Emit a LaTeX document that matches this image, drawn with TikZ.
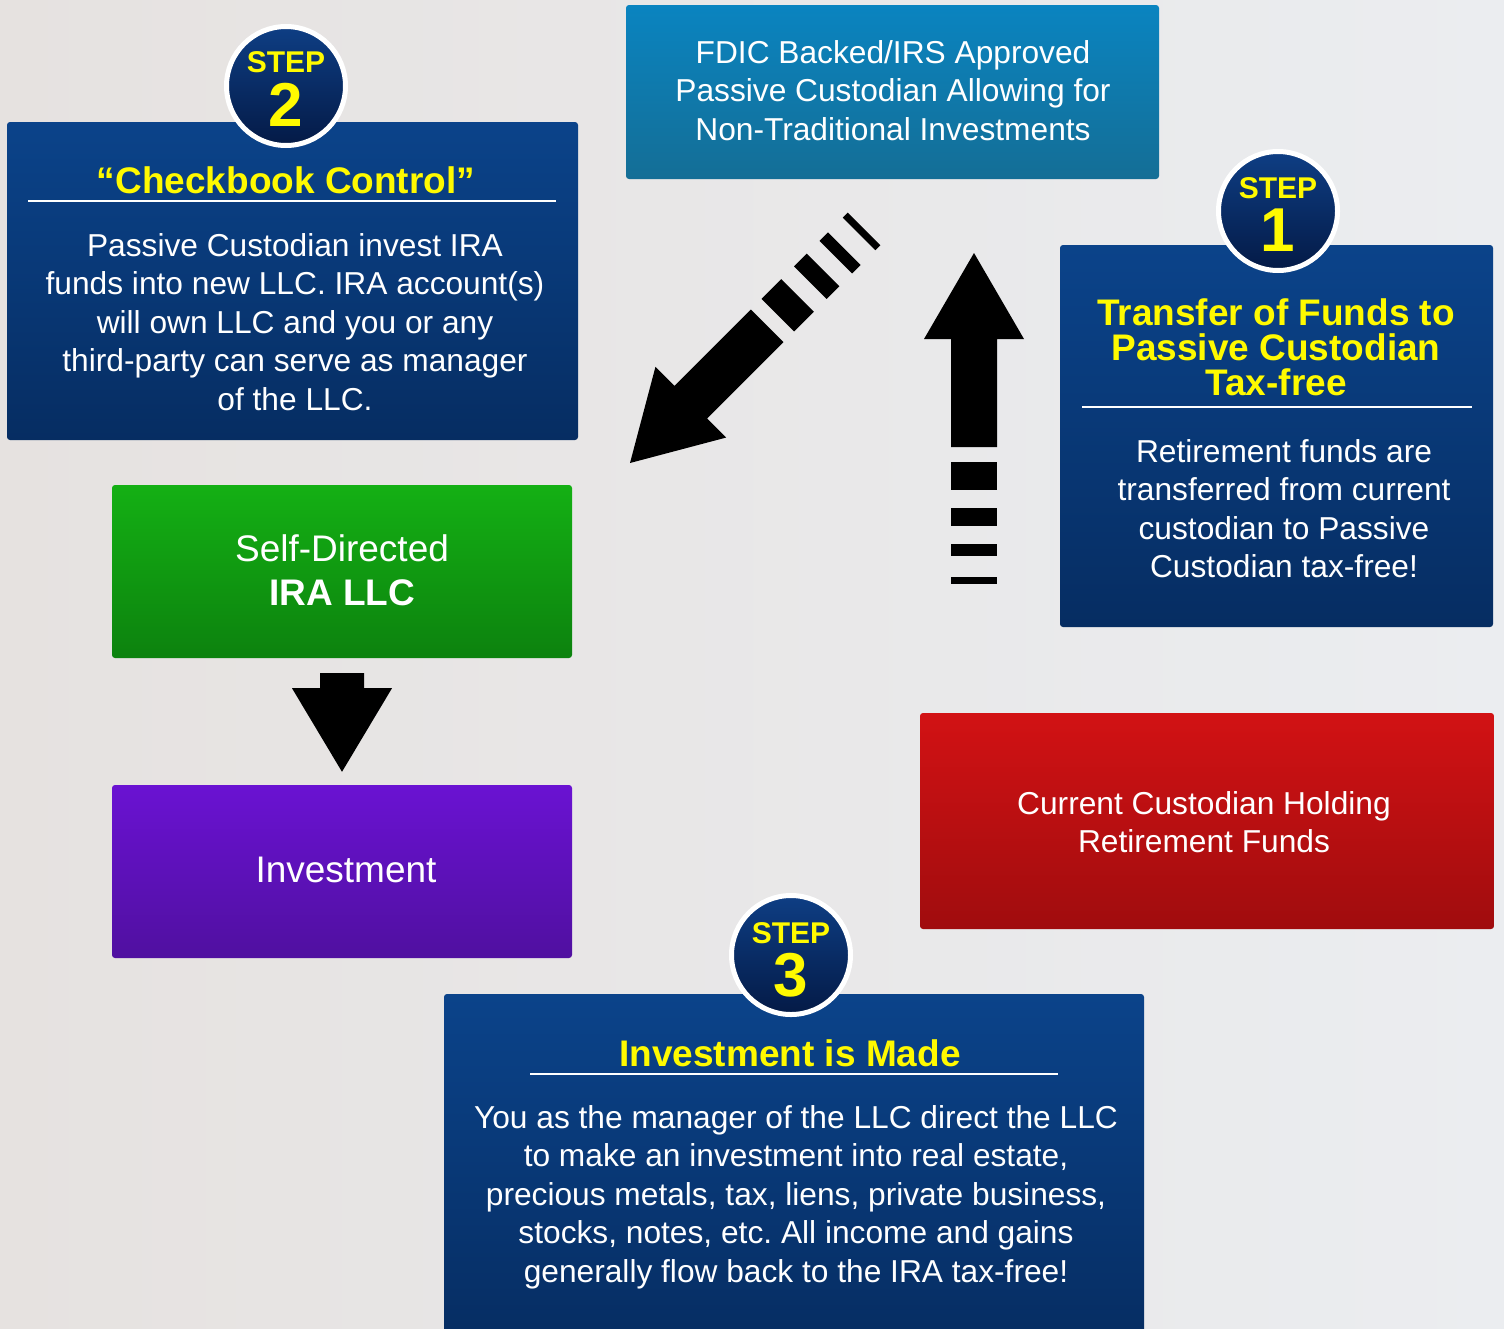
\documentclass[tikz,border=0pt]{standalone}
\usepackage{fontspec}
\setmainfont{Liberation Sans}
\usepackage{tikz}
\usetikzlibrary{calc}
\frenchspacing

\definecolor{bgleft}{RGB}{230,226,224}
\definecolor{bgright}{RGB}{235,237,240}
\definecolor{navytop}{RGB}{11,67,138}
\definecolor{navybot}{RGB}{6,45,98}
\definecolor{badgetop}{RGB}{14,62,132}
\definecolor{badgebot}{RGB}{4,26,70}
\definecolor{tealtop}{RGB}{10,132,192}
\definecolor{tealbot}{RGB}{20,110,150}
\definecolor{greentop}{RGB}{20,176,20}
\definecolor{greenbot}{RGB}{12,130,14}
\definecolor{purpletop}{RGB}{106,18,210}
\definecolor{purplebot}{RGB}{80,16,160}
\definecolor{redtop}{RGB}{210,18,20}
\definecolor{redbot}{RGB}{160,12,14}
\definecolor{stepyellow}{RGB}{255,250,0}

\newcommand\bodysize{\fontsize{31.7}{38.5}\selectfont}
\newcommand\headsize{\fontsize{37}{35}\selectfont\bfseries}
\newcommand\boxsize{\fontsize{37}{44}\selectfont}

\tikzset{
  panel/.style={rounded corners=3pt, inner sep=0pt},
  navy/.style={panel, top color=navytop, bottom color=navybot},
  head/.style={text=stepyellow, font=\headsize, align=center, inner sep=0pt},
  body/.style={text=white, font=\bodysize, align=center, inner sep=0pt},
  rule/.style={white, line width=2pt},
  badge/.style={circle, minimum size=119pt, draw=white, line width=5pt,
    top color=badgetop, bottom color=badgebot},
  steptxt/.style={text=stepyellow, font=\fontsize{30}{30}\selectfont\bfseries, inner sep=0pt},
  stepnum/.style={text=stepyellow, font=\fontsize{62}{62}\selectfont\bfseries, inner sep=0pt},
  flowarrow/.pic={
    \fill (0,0) -- (50,86) -- (23,86) -- (23,194) -- (-23,194) -- (-23,86) -- (-50,86) -- cycle;
    \foreach \a/\b in {209/237,255/273,291/303,324/331}
      \fill (-23,\a) rectangle (23,\b);
  }
}

\begin{document}
\begin{tikzpicture}[x=1pt, y=-1pt]
  \clip (0,0) rectangle (1504,1328);
  \shade[left color=bgleft, right color=bgright] (0,0) rectangle (1504,1328);

  % step 2 panel
  \node[navy, minimum width=571pt, minimum height=318pt] (0) at (292.5,281) {};
  \node[head] (1) at (286,180) {“Checkbook Control”};
  \node (2) at (28,201) {};
  \node (3) at (556,201) {};
  \draw[rule] (2.center) to (3.center);
  \node[body] (4) at (295,322) {Passive Custodian invest IRA\\funds into new LLC. IRA account(s)\\will own LLC and you or any\\third-party can serve as manager\\of the LLC.};
  \node[badge] (5) at (286,86) {};
  \node[steptxt] (6) at ($(5)+(0,-24)$) {STEP};
  \node[stepnum] (7) at ($(5)+(0,19)$) {2};

  % passive custodian
  \node[panel, top color=tealtop, bottom color=tealbot, minimum width=533pt, minimum height=174pt] (8) at (892.5,92) {};
  \node[body] (9) at (893,90.5) {FDIC Backed/IRS Approved\\Passive Custodian Allowing for\\Non-Traditional Investments};

  % step 1 panel
  \node[navy, minimum width=433pt, minimum height=382pt] (10) at (1276.5,436) {};
  \node[head] (11) at (1276,347.5) {Transfer of Funds to\\Passive Custodian\\Tax-free};
  \node (12) at (1082,407) {};
  \node (13) at (1472,407) {};
  \draw[rule] (12.center) to (13.center);
  \node[body] (14) at (1284,508.5) {Retirement funds are\\transferred from current\\custodian to Passive\\Custodian tax-free!};
  \node[badge] (15) at (1278,211) {};
  \node[steptxt] (16) at ($(15)+(0,-23)$) {STEP};
  \node[stepnum] (17) at ($(15)+(0,19)$) {1};

  % llc and investment
  \node[panel, top color=greentop, bottom color=greenbot, minimum width=460pt, minimum height=173pt] (18) at (342,571.5) {};
  \node[text=white, font=\boxsize, align=center, inner sep=0pt] (19) at (342,570) {Self-Directed\\\textbf{IRA LLC}};
  \node[panel, top color=purpletop, bottom color=purplebot, minimum width=460pt, minimum height=173pt] (20) at (342,871.5) {};
  \node[text=white, font=\boxsize, inner sep=0pt] (21) at (346,870) {Investment};
  \fill ($(18.south)+(-22,15)$) -- ++(44,0) -- ++(0,15) -- ++(28,0)
    -- ($(20.north)+(0,-13)$) -- ($(18.south)+(-50,30)$) -- ++(28,0) -- cycle;

  % current custodian
  \node[panel, top color=redtop, bottom color=redbot, minimum width=574pt, minimum height=216pt] (22) at (1207,821) {};
  \node[body, font=\fontsize{31.7}{38}\selectfont] (23) at (1204,822) {Current Custodian Holding\\Retirement Funds};

  % step 3 panel
  \node[navy, minimum width=700pt, minimum height=350pt] (24) at (794,1169) {};
  \node[head] (25) at (790,1053) {Investment is Made};
  \node (26) at (530,1074) {};
  \node (27) at (1058,1074) {};
  \draw[rule] (26.center) to (27.center);
  \node[body] (28) at (796,1197) {You as the manager of the LLC direct the LLC\\to make an investment into real estate,\\precious metals, tax, liens, private business,\\stocks, notes, etc. All income and gains\\generally flow back to the IRA tax-free!};
  \node[badge] (29) at (791,955) {};
  \node[steptxt] (30) at ($(29)+(0,-22)$) {STEP};
  \node[stepnum] (31) at ($(29)+(0,20)$) {3};

  % flow arrows
  \pic at (974,253) {flowarrow};
  \pic[rotate=135] at (630,463) {flowarrow};
\end{tikzpicture}
\end{document}
